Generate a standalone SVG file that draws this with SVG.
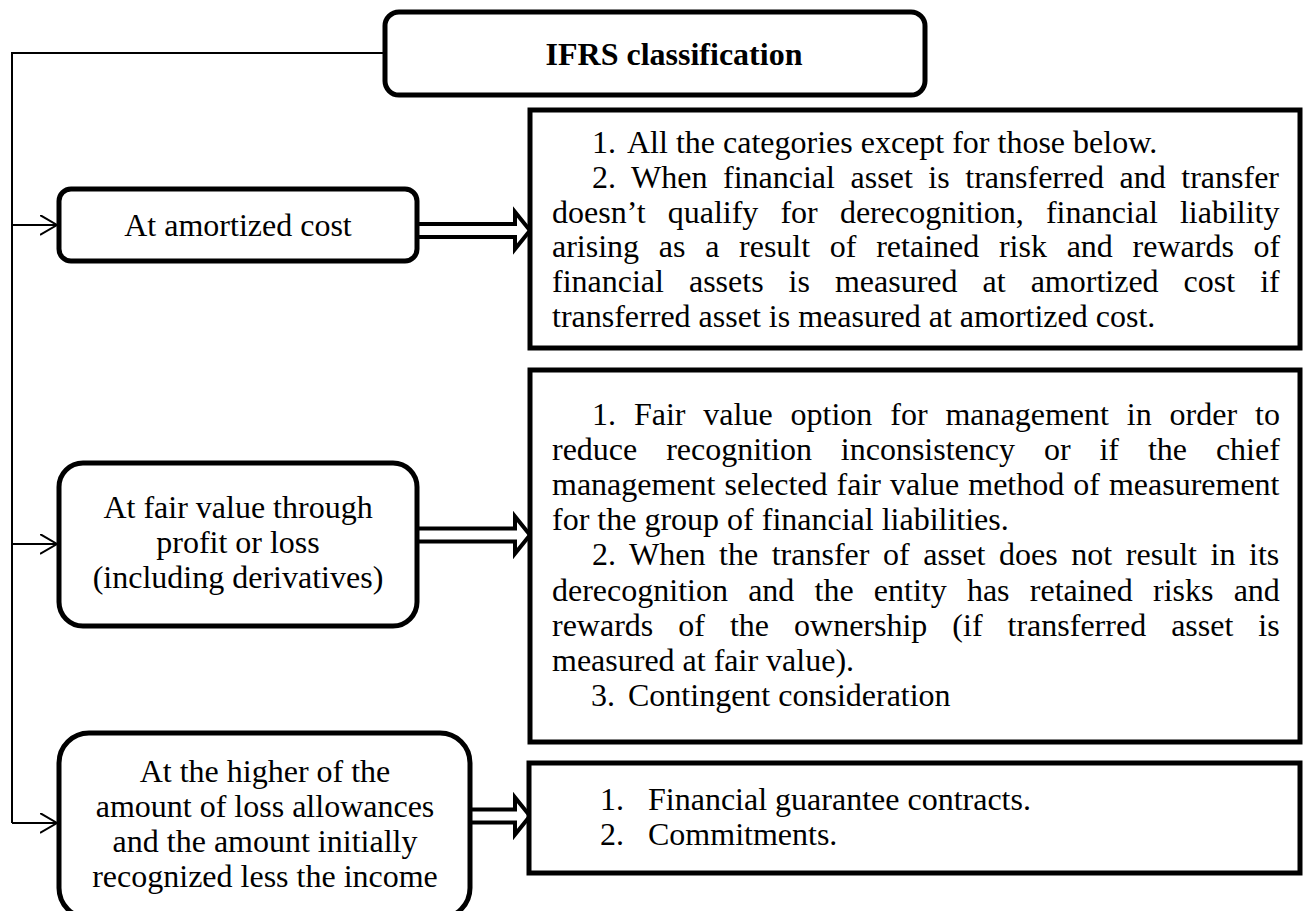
<svg xmlns="http://www.w3.org/2000/svg" width="1304" height="911" viewBox="0 0 1304 911">
<defs>
<style>
text{font-size:32px;fill:#000}
.b{font-weight:bold}
.c{text-anchor:middle}
.rb{fill:#fff;stroke:#000;stroke-width:5}
.thin{fill:none;stroke:#000;stroke-width:2}
.dbl{fill:#fff;stroke:#000;stroke-width:4;stroke-linejoin:miter}
</style>
<marker id="open" markerWidth="20" markerHeight="24" refX="17" refY="10" orient="auto" markerUnits="userSpaceOnUse">
<path d="M0,0 L17,10 L0,20" fill="none" stroke="#000" stroke-width="2"/>
</marker>
</defs>
<rect width="1304" height="911" fill="#fff"/>

<g id="connectors">
<path class="thin" d="M385,53 H12 V823"/>
<path class="thin" d="M12,225 H57" marker-end="url(#open)"/>
<path class="thin" d="M12,544 H57" marker-end="url(#open)"/>
<path class="thin" d="M12,823 H57" marker-end="url(#open)"/>
<path class="dbl" d="M419,224 H515 V212 L530,230.5 L515,249 V237 H419"/>
<path class="dbl" d="M419,528.5 H515 V516.5 L530,535 L515,553.5 V541.5 H419"/>
<path class="dbl" d="M472,809.5 H515 V797.5 L530,816 L515,834.5 V822.5 H472"/>
</g>

<g font-family="Liberation Serif, Times New Roman, Tinos, DejaVu Serif, serif">
<g id="ifrs">
<rect class="rb" x="385" y="12" width="540" height="83" rx="14"/>
<text class="b c" x="674" y="65">IFRS classification</text>
</g>

<g id="amortized">
<rect class="rb" x="59" y="189" width="358" height="72" rx="12"/>
<text class="c" x="238" y="236">At amortized cost</text>
</g>

<g id="fairvalue">
<rect class="rb" x="59" y="463" width="358" height="163" rx="24"/>
<text class="c" x="238" y="518">At fair value through</text>
<text class="c" x="238" y="553">profit or loss</text>
<text class="c" x="238" y="588">(including derivatives)</text>
</g>

<g id="higher">
<rect class="rb" x="59" y="733" width="411" height="185" rx="30"/>
<text class="c" x="265" y="782">At the higher of the</text>
<text class="c" x="265" y="817">amount of loss allowances</text>
<text class="c" x="265" y="852">and the amount initially</text>
<text class="c" x="265" y="887">recognized less the income</text>
</g>

<g id="amortized-detail">
<rect class="rb" x="530" y="110" width="770" height="238"/>
<text x="592" y="153">1.</text>
<text x="627" y="153">All the categories except for those below.</text>
<text x="592" y="188" word-spacing="7.6">2. When financial asset is transferred and transfer</text>
<text x="552" y="222.6" word-spacing="14.1">doesn’t qualify for derecognition, financial liability</text>
<text x="552" y="257.4" word-spacing="11.7">arising as a result of retained risk and rewards of</text>
<text x="552" y="292.2" word-spacing="17">financial assets is measured at amortized cost if</text>
<text x="552" y="327">transferred asset is measured at amortized cost.</text>
</g>

<g id="fairvalue-detail">
<rect class="rb" x="530" y="370" width="770" height="372"/>
<text x="592" y="425" word-spacing="9.9">1. Fair value option for management in order to</text>
<text x="552" y="460" word-spacing="20.9">reduce recognition inconsistency or if the chief</text>
<text x="552" y="495" word-spacing="1">management selected fair value method of measurement</text>
<text x="552" y="530">for the group of financial liabilities.</text>
<text x="592" y="565" word-spacing="5.6">2. When the transfer of asset does not result in its</text>
<text x="552" y="600.5" word-spacing="12.2">derecognition and the entity has retained risks and</text>
<text x="552" y="635.6" word-spacing="17">rewards of the ownership (if transferred asset is</text>
<text x="552" y="670.7">measured at fair value).</text>
<text x="591" y="705.8">3.</text>
<text x="628" y="705.8">Contingent consideration</text>
</g>

<g id="higher-detail">
<rect class="rb" x="529" y="763" width="771" height="110"/>
<text x="600" y="810">1.</text>
<text x="648" y="810">Financial guarantee contracts.</text>
<text x="600" y="845">2.</text>
<text x="648" y="845">Commitments.</text>
</g>
</g>
</svg>
